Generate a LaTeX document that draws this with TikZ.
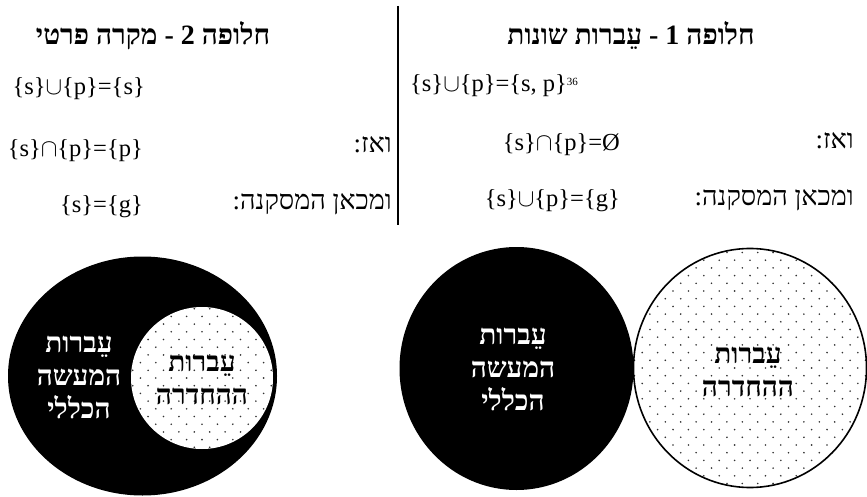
\documentclass[tikz,border=0pt]{standalone}
\usepackage{fontspec}
\setmainfont{Liberation Serif}
\newfontfamily\hebfont[Script=Hebrew]{Liberation Serif}
\TeXXeTstate=1
\usetikzlibrary{calc}

\newcommand{\heb}[1]{{\hebfont\beginR #1\endR}}
% dotted fill round a centre, #2 rows each way
\newcommand{\stipple}[2]{%
  \foreach \r in {-#2,...,#2}{\foreach \c in {-#2,...,#2}{%
    \fill[dotc] ($(#1)+({\c*15.4+mod(abs(\r),2)*7.7},{\r*7.7})$) circle (.9);}}}

\begin{document}
\begin{tikzpicture}[x=1pt,y=-1pt,
  formula/.style={font=\fontsize{24.5}{28}\selectfont,inner sep=0},
  hebtxt/.style={font=\fontsize{27}{30}\selectfont\hebfont,inner sep=0},
  heading/.style={font=\fontsize{28}{32}\selectfont\bfseries\hebfont,inner sep=0},
  blob/.style={font=\fontsize{28}{33}\selectfont\bfseries\hebfont,align=center,inner sep=0},
  dotc/.style={fill=black!80}]
\useasboundingbox (0,0) rectangle (867,497);

% divider
\coordinate (top) at (398,6); \coordinate (bot) at (398,225);
\draw[line width=1.3pt] (top)--(bot);

% alternative 1 (right)
\node[heading,anchor=base] (hR) at (631,45){\heb{חלופה 1 - עֵברות שונות}};
\node[formula,anchor=base west] (r1) at (410,92){\{s\}$\cup$\{p\}=\{s, p\}\raisebox{.55ex}{\fontsize{11}{11}\selectfont 36}};
\node[formula,anchor=base east] (r2) at (620,151){\{s\}$\cap$\{p\}=Ø};
\node[formula,anchor=base east] (r3) at (620,207){\{s\}$\cup$\{p\}=\{g\}};
\node[hebtxt,anchor=base east] (rA) at (854,149){\heb{ואז:}};
\node[hebtxt,anchor=base east] (rB) at (854,206){\heb{ומכאן המסקנה:}};

% alternative 2 (left)
\node[heading,anchor=base] (hL) at (153,45){\heb{חלופה 2 - מקרה פרטי}};
\node[formula,anchor=base east] (l1) at (145,95){\{s\}$\cup$\{p\}=\{s\}};
\node[formula,anchor=base east] (l2) at (143,157){\{s\}$\cap$\{p\}=\{p\}};
\node[formula,anchor=base east] (l3) at (143,213){\{s\}=\{g\}};
\node[hebtxt,anchor=base east] (lA) at (392,153){\heb{ואז:}};
\node[hebtxt,anchor=base east] (lB) at (392,210){\heb{ומכאן המסקנה:}};

% circles, left
\coordinate (gL) at (142.5,376); \coordinate (dL) at (202,378);
\fill (gL) ellipse [x radius=134.5,y radius=119.5];
\fill[white] (dL) circle (71);
\begin{scope}
\clip (dL) circle (71);
\stipple{dL}{10}
\end{scope}
\node[blob,text=white] (gLt) at (79,377){\heb{עֵברות}\\\heb{המעשה}\\\heb{הכללי}};
\node[blob] (dLt) at (202,380){\heb{עֵברות}\\\heb{ההחדרה}};

% circles, right
\coordinate (gR) at (516.5,368.5); \coordinate (dR) at (750,368);
\fill (gR) ellipse [x radius=117,y radius=121.5];
\begin{scope}
\clip (dR) ellipse [x radius=116.5,y radius=119.5];
\stipple{dR}{16}
\end{scope}
\draw[line width=1.6pt] (dR) ellipse [x radius=116.5,y radius=119.5];
\node[blob,text=white] (gRt) at (513,369){\heb{עֵברות}\\\heb{המעשה}\\\heb{הכללי}};
\node[blob] (dRt) at (748,372){\heb{עֵברות}\\\heb{ההחדרה}};
\end{tikzpicture}
\end{document}
